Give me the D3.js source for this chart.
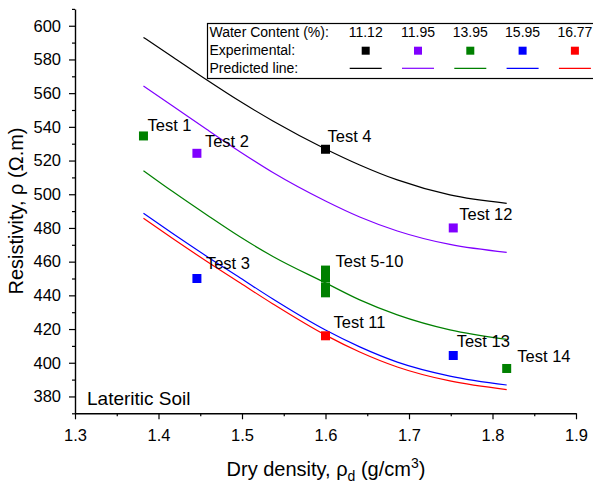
<!DOCTYPE html>
<html>
<head>
<meta charset="utf-8">
<script src="https://cdn.jsdelivr.net/npm/d3@7"></script>
<style>
  body { margin: 0; background: #fff; }
  svg { font-family: "Liberation Sans", Arial, sans-serif; }
</style>
</head>
<body>
<svg width="593" height="483"></svg>
<script>
// Water content series (%)
const waterContent = ["11.12", "11.95", "13.95", "15.95", "16.77"];
const seriesColors = ["#000000", "#8000ff", "#008000", "#0000ff", "#ff0000"];

// Predicted lines
const predDensity = [1.382, 1.417, 1.458, 1.498, 1.537, 1.6, 1.641, 1.686, 1.749, 1.817];
const pred1112 = [593.1, 581.5, 567.8, 555.0, 543.5, 526.9, 517.4, 508.5, 499.6, 494.6];
const pred1195 = [564.2, 552.4, 538.4, 525.1, 512.9, 496.0, 486.5, 478.2, 470.2, 465.5];
const pred1395 = [514.0, 501.6, 487.7, 474.6, 463.1, 447.4, 437.3, 428.4, 419.5, 413.9];
const pred1595 = [488.7, 476.7, 463.1, 450.3, 437.8, 419.4, 409.4, 400.4, 392.1, 386.8];
const pred1677 = [485.7, 473.7, 460.1, 447.3, 434.9, 416.4, 406.4, 397.5, 389.2, 384.1];
const predSeries = [pred1112, pred1195, pred1395, pred1595, pred1677];

// Experimental tests
const testNames = ["Test 1", "Test 2", "Test 3", "Test 4", "Test 5", "Test 6", "Test 7", "Test 8",
    "Test 9", "Test 10", "Test 11", "Test 12", "Test 13", "Test 14"];
const testDensity = [1.382, 1.446, 1.446, 1.6, 1.6, 1.6, 1.6, 1.6, 1.6, 1.6, 1.6, 1.753, 1.753, 1.817];
const testResistivity = [534.6, 524.3, 450, 526.7, 455, 453, 450.5, 445, 443, 441.5, 416, 480, 404.3, 396.6];
const testSeries = [2, 1, 3, 0, 2, 2, 2, 2, 2, 2, 4, 1, 3, 2];

// Annotation labels (which test point each one sits next to)
const labelText = ["Test 1", "Test 2", "Test 3", "Test 4", "Test 5-10", "Test 11", "Test 12", "Test 13", "Test 14"];
const labelPoint = [0, 1, 2, 3, 4, 10, 11, 12, 13];
const labelOffsets = [[4, -5], [8, -6.6], [9, -9.4], [2, -7.6], [10, -3.2], [8, -7.7], [6, -7.6], [3.4, -9], [10.6, -6.4]];

// Axis ticks
const xTicks = [1.3, 1.4, 1.5, 1.6, 1.7, 1.8, 1.9];
const yTicks = [380, 400, 420, 440, 460, 480, 500, 520, 540, 560, 580, 600];

const svg = d3.select("svg");

const x = d3.scaleLinear().domain([1.3, 1.9]).range([75, 576]);
const y = d3.scaleLinear().domain([370, 610]).range([413.3, 8.9]);

// predicted lines
const line = d3.line()
    .x(d => x(d[0]))
    .y(d => y(d[1]))
    .curve(d3.curveMonotoneX);

predSeries.forEach((vals, i) => {
    svg.append("path")
        .datum(predDensity.map((dx, j) => [dx, vals[j]]))
        .attr("fill", "none")
        .attr("stroke", seriesColors[i])
        .attr("stroke-width", 1.2)
        .attr("d", line);
});

// experimental points
const points = testNames.map((n, i) => ({
    name: n, x: testDensity[i], y: testResistivity[i], s: testSeries[i]
}));
const sq = 9;
svg.selectAll("rect.pt")
    .data(points)
    .enter().append("rect")
    .attr("class", "pt")
    .attr("x", d => x(d.x) - sq / 2)
    .attr("y", d => y(d.y) - sq / 2)
    .attr("width", sq)
    .attr("height", sq)
    .attr("fill", d => seriesColors[d.s]);

// point labels
svg.selectAll("text.lbl")
    .data(labelText)
    .enter().append("text")
    .attr("class", "lbl")
    .attr("x", (d, i) => x(points[labelPoint[i]].x) + labelOffsets[i][0])
    .attr("y", (d, i) => y(points[labelPoint[i]].y) + labelOffsets[i][1])
    .style("font-size", "16.5px")
    .attr("fill", "#000")
    .text(d => d);

// axes
const minorX = d3.range(1.35, 1.9, 0.1);
const minorY = d3.range(370, 611, 20);

svg.append("g")
    .attr("transform", "translate(0,413.3)")
    .call(d3.axisBottom(x).tickValues(xTicks).tickFormat(d3.format(".1f")).tickSize(6).tickPadding(10).tickSizeOuter(0));
svg.append("g")
    .attr("transform", "translate(0,413.3)")
    .call(d3.axisBottom(x).tickValues(minorX).tickFormat("").tickSize(3).tickSizeOuter(0))
    .select(".domain").remove();

svg.append("g")
    .attr("transform", "translate(75,0)")
    .call(d3.axisLeft(y).tickValues(yTicks).tickSize(6).tickPadding(8).tickSizeOuter(0));
svg.append("g")
    .attr("transform", "translate(75,0)")
    .call(d3.axisLeft(y).tickValues(minorY).tickFormat("").tickSize(3).tickSizeOuter(0))
    .select(".domain").remove();

svg.selectAll(".domain").attr("stroke-width", 1.4).attr("stroke", "#000");
svg.selectAll(".tick line").attr("stroke-width", 1.2).attr("stroke", "#000");
svg.selectAll(".tick text")
    .style("font-size", "16.5px")
    .style("font-family", "'Liberation Sans', Arial, sans-serif")
    .attr("fill", "#000");

// axis titles
const xTitle = svg.append("text")
    .attr("x", 326)
    .attr("y", 476)
    .attr("text-anchor", "middle")
    .style("font-size", "20px");
xTitle.append("tspan").text("Dry density, \u03c1");
xTitle.append("tspan").attr("dy", 5).style("font-size", "14px").text("d");
xTitle.append("tspan").attr("dy", -5).text(" (g/cm");
xTitle.append("tspan").attr("dy", -8).style("font-size", "14px").text("3");
xTitle.append("tspan").attr("dy", 8).text(")");

svg.append("text")
    .attr("transform", "translate(23,211) rotate(-90)")
    .attr("text-anchor", "middle")
    .style("font-size", "20px")
    .text("Resistivity, \u03c1 (\u03a9.m)");

svg.append("text")
    .attr("x", 87)
    .attr("y", 405)
    .style("font-size", "19px")
    .text("Lateritic Soil");

// legend table
const leg = svg.append("g");
leg.append("rect")
    .attr("x", 207.5)
    .attr("y", 23.5)
    .attr("width", 400)
    .attr("height", 55)
    .attr("fill", "#fff")
    .attr("stroke", "#000")
    .attr("stroke-width", 1.2);

const rowTitles = ["Water Content (%):", "Experimental:", "Predicted line:"];
const rowY = [37.3, 55, 72.7];
leg.selectAll("text.row")
    .data(rowTitles)
    .enter().append("text")
    .attr("class", "row")
    .attr("x", 209.5)
    .attr("y", (d, i) => rowY[i])
    .style("font-size", "14px")
    .text(d => d);

const colX = i => 365.7 + i * 52.3;
waterContent.forEach((w, i) => {
    leg.append("text")
        .attr("x", colX(i))
        .attr("y", rowY[0])
        .attr("text-anchor", "middle")
        .style("font-size", "14px")
        .text(w);
    leg.append("rect")
        .attr("x", colX(i) - 4)
        .attr("y", 50.7 - 4)
        .attr("width", 8)
        .attr("height", 8)
        .attr("fill", seriesColors[i]);
    leg.append("line")
        .attr("x1", colX(i) - 16)
        .attr("x2", colX(i) + 16)
        .attr("y1", 68.3)
        .attr("y2", 68.3)
        .attr("stroke", seriesColors[i])
        .attr("stroke-width", 1.2);
});
</script>
</body>
</html>
